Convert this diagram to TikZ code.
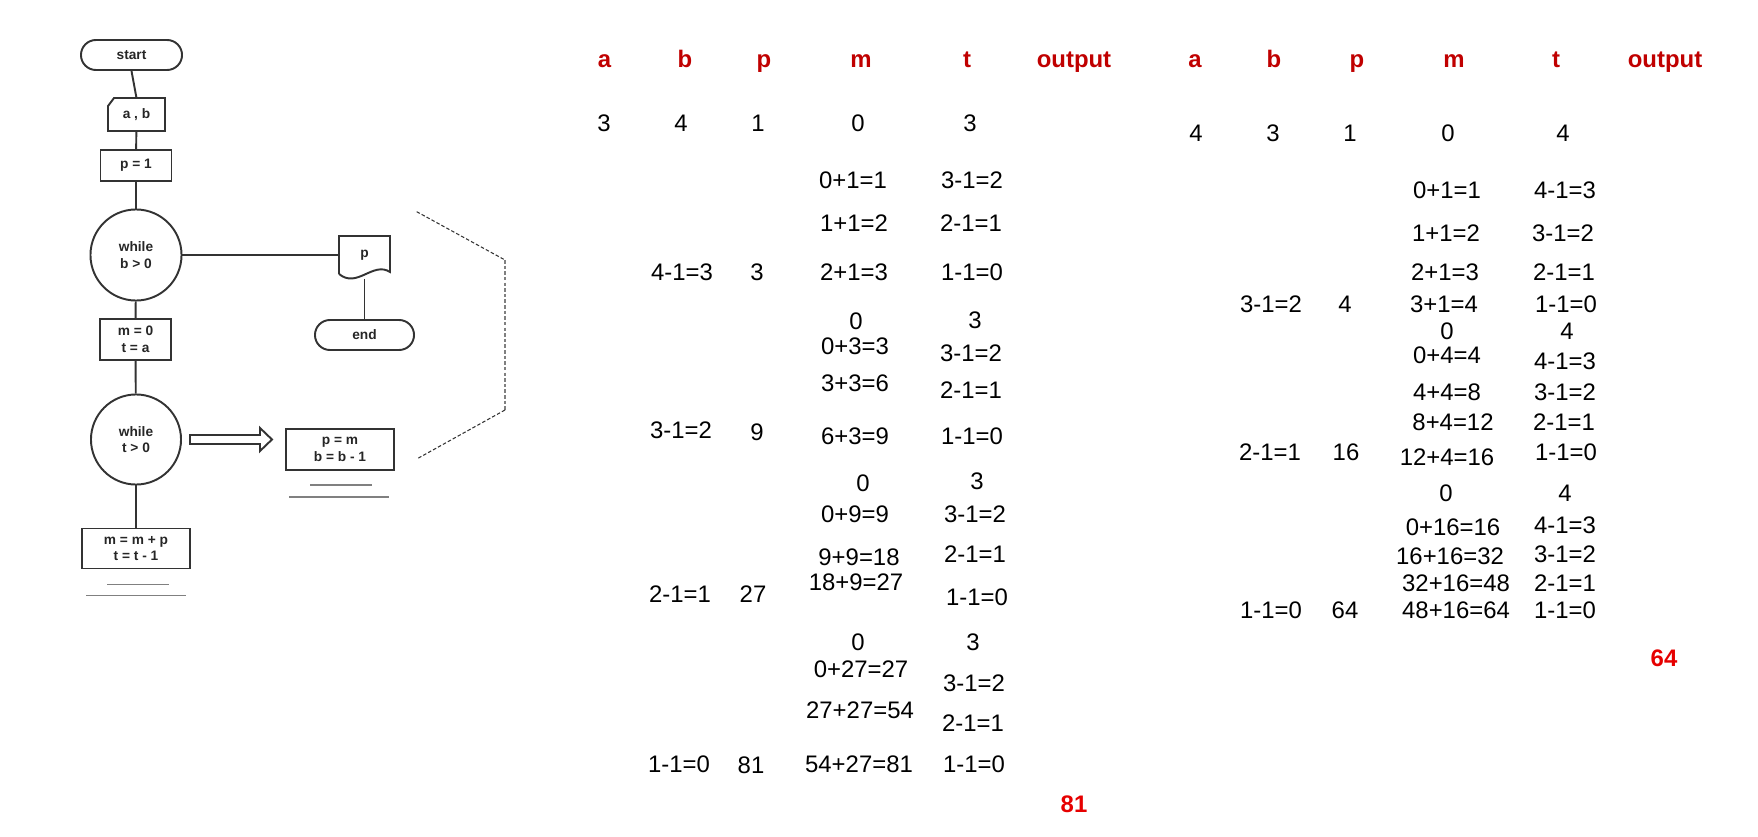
\documentclass[tikz,border=0pt]{standalone}
\usepackage{fontspec}
\setmainfont{Liberation Sans}
\usepackage{tikz}
\definecolor{hdrred}{RGB}{192,0,0}
\definecolor{outred}{RGB}{230,0,0}
\definecolor{lncol}{RGB}{51,51,51}

\begin{document}
\begin{tikzpicture}[x=0.01cm, y=-0.01cm,
  box/.style={draw=lncol, line width=0.55pt, inner sep=0pt, align=center, font=\fontsize{3.9}{4.7}\selectfont\bfseries, text=black!85},
  term/.style={box, rounded corners=0.15cm},
  loopc/.style={box, circle},
  ln/.style={draw=lncol, line width=0.55pt},
  under/.style={draw=gray, line width=0.5pt},
  hdr/.style={font=\fontsize{6.8}{8}\selectfont\bfseries, text=hdrred, inner sep=0pt, anchor=base},
  val/.style={font=\fontsize{6.8}{8}\selectfont, inner sep=0pt},
  res/.style={font=\fontsize{6.8}{8}\selectfont\bfseries, text=outred, inner sep=0pt},
  brk/.style={draw=black!80, line width=0.3pt, dash pattern=on 1pt off 0.6pt}]
\useasboundingbox (0,0) rectangle (1758,837);
\node[term, minimum width=1.01cm, minimum height=0.3cm] (start) at (131.5,55) {start};
\node[box, draw=none, minimum width=0.55cm, minimum height=0.31cm] (ab) at (136.5,114.5) {a , b};
\draw[ln] (ab.south west) -- (ab.south east) -- (ab.north east) -- ([xshift=0.06cm]ab.north west) -- ([yshift=-0.08cm]ab.north west) -- cycle;
\node[box, minimum width=0.71cm, minimum height=0.31cm] (p1) at (136,165.5) {p = 1};
\node[loopc, minimum size=0.91cm] (w1) at (136,255) {while\\b > 0};
\node[box, draw=none, minimum width=0.49cm, minimum height=0.36cm] (doc) at (364.5,255) {p};
\draw[ln] (doc.south west) -- (doc.north west) -- (doc.north east) -- ([yshift=0.02cm]doc.south east) .. controls +(-17,-11) and +(18,15) .. (doc.south west);
\node[term, minimum width=0.99cm, minimum height=0.3cm] (end) at (364.5,335) {end};
\node[box, minimum width=0.71cm, minimum height=0.41cm] (m0) at (135.5,339.5) {m = 0\\t = a};
\node[loopc, minimum size=0.9cm] (w2) at (136,439.5) {while\\t > 0};
\node[box, minimum width=1.08cm, minimum height=0.41cm] (pb) at (340,449.5) {p = m\\b = b - 1};
\node[box, minimum width=1.08cm, minimum height=0.40cm] (mmp) at (136,548.5) {m = m + p\\t = t - 1};
\draw[ln] (start.south) -- (ab.north);
\draw[ln] (ab) -- (p1);
\draw[ln] (p1) -- (w1);
\draw[ln] (w1) -- (doc);
\draw[ln] ([yshift=-0.05cm]doc.south) -- (end);
\draw[ln] (w1) -- (m0);
\draw[ln] (m0) -- (w2);
\draw[ln] (w2) -- (mmp);
\draw[ln, shift={(w2.east)}] (8,-4.5) -- (78,-4.5) -- (78,-11.5) -- (90,0) -- (78,11.5) -- (78,4.5) -- (8,4.5) -- cycle;
\draw[under, shift={(pb.south)}] (-30,14) -- (32,14) (-51,26) -- (49,26);
\draw[under, shift={(mmp.south)}] (-29,15) -- (33,15) (-50,26) -- (50,26);
\draw[brk] (416.7,211.7) -- (505,260);
\draw[brk, draw=gray, line width=0.45pt] (505,260) -- (505,410);
\draw[brk] (505,410) -- (416.7,459);
\foreach \x/\t [count=\i] in {604.6/a, 685/b, 764/p, 861/m, 967/t, 1074/output, 1195/a, 1274/b, 1357/p, 1454/m, 1556/t, 1665/output}
  \node[hdr] (h\i) at (\x,68) {\t};
\foreach \x/\y/\t [count=\i] in {604/123/3, 681/123/4, 758/123/1, 858/123/0, 970/123/3,
  853/180/0+1=1, 972/180/3-1=2,
  854/223/1+1=2, 971/223/2-1=1,
  682/272/4-1=3, 757/272/3, 854/272/2+1=3, 972/272/1-1=0,
  856/321/0, 975/320/3,
  855/346/0+3=3, 971/353/3-1=2,
  855/383/3+3=6, 971/390/2-1=1,
  681/430/3-1=2, 757/432/9, 855/436/6+3=9, 972/436/1-1=0,
  863/483/0, 977/481/3,
  855/514/0+9=9, 975/514/3-1=2,
  859/557/9+9=18, 975/554/2-1=1,
  856/582/18+9=27,
  680/594/2-1=1, 753/594/27, 977/597/1-1=0,
  858/642/0, 973/642/3,
  861/669/0+27=27, 974/683/3-1=2,
  860/710/27+27=54, 973/723/2-1=1,
  679/764/1-1=0, 751/765/81, 859/764/54+27=81, 974/764/1-1=0}
  \node[val] (u\i) at (\x,\y) {\t};
\foreach \x/\y/\t [count=\i] in {1196/133/4, 1273/133/3, 1350/133/1, 1448/133/0, 1563/133/4,
  1447/190/0+1=1, 1565/190/4-1=3,
  1446/233/1+1=2, 1563/233/3-1=2,
  1445/272/2+1=3, 1564/272/2-1=1,
  1271/304/3-1=2, 1345/304/4, 1444/304/3+1=4, 1566/304/1-1=0,
  1447/331/0, 1567/331/4,
  1447/355/0+4=4, 1565/361/4-1=3,
  1447/392/4+4=8, 1565/392/3-1=2,
  1453/422/8+4=12, 1564/422/2-1=1,
  1270/452/2-1=1, 1346/452/16, 1447/457/12+4=16, 1566/452/1-1=0,
  1446/493/0, 1565/493/4,
  1453/527/0+16=16, 1565/525/4-1=3,
  1450/556/16+16=32, 1565/554/3-1=2,
  1456/583/32+16=48, 1565/583/2-1=1,
  1271/610/1-1=0, 1345/610/64, 1456/610/48+16=64, 1565/610/1-1=0}
  \node[val] (v\i) at (\x,\y) {\t};
\node[res] (out1) at (1074,804) {81};
\node[res] (out2) at (1664,658) {64};
\end{tikzpicture}
\end{document}
